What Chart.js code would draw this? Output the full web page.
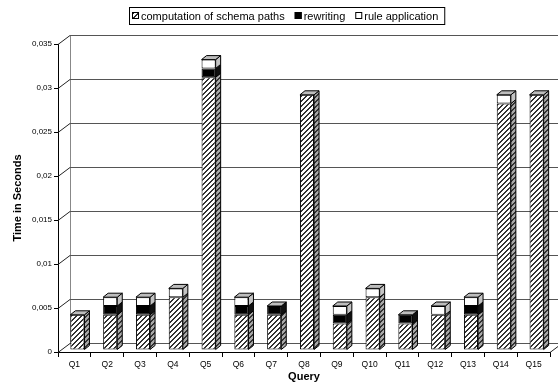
<!DOCTYPE html>
<html>
<head>
<meta charset="utf-8">
<script src="https://cdn.jsdelivr.net/npm/chart.js@4.4.1/dist/chart.umd.min.js"></script>
<style>
  html, body { margin: 0; padding: 0; background: #fff; }
</style>
</head>
<body>
<canvas id="queryChart" width="558" height="387"></canvas>
<script>
const queries = ["Q1", "Q2", "Q3", "Q4", "Q5", "Q6", "Q7", "Q8", "Q9", "Q10", "Q11", "Q12", "Q13", "Q14", "Q15"];
const schemaPaths     = [0.004, 0.004, 0.004, 0.006, 0.031, 0.004, 0.004, 0.029, 0.003, 0.006, 0.003, 0.004, 0.004, 0.028, 0.029];
const rewriting       = [0,     0.001, 0.001, 0,     0.001, 0.001, 0.001, 0,     0.001, 0,     0.001, 0,     0.001, 0,     0];
const ruleApplication = [0,     0.001, 0.001, 0.001, 0.001, 0.001, 0,     0,     0.001, 0.001, 0,     0.001, 0.001, 0.001, 0];
const yTicks = [0, 0.005, 0.01, 0.015, 0.02, 0.025, 0.03, 0.035];

const FONT = "'Liberation Sans', Arial, sans-serif";
const wall = { dx: 12, dy: -9 };     // back wall offset
const barDepth = { dx: 5, dy: -4 };  // column depth
const barShift = { dx: 3, dy: -2 };  // columns sit a bit behind the front edge

function hatch(bg, fg) {
    const c = document.createElement("canvas");
    c.width = c.height = 5;
    const g = c.getContext("2d");
    g.fillStyle = bg;
    g.fillRect(0, 0, 5, 5);
    g.fillStyle = fg;
    for (let x = 0; x < 5; x++)
        for (let y = 0; y < 5; y++)
            if ((x + y) % 5 < 2) g.fillRect(x, y, 1, 1);
    return g.createPattern(c, "repeat");
}

const hatchFront = hatch("#ffffff", "#333333");
const hatchSide = hatch("#a8a8a8", "#333333");
const sideColors = [hatchSide, "#111111", "#c4c4c4"];

const depthPlugin = {
    id: "depth3d",
    beforeDatasetsDraw(chart) {
        const { ctx, chartArea: a, scales: { y } } = chart;
        ctx.save();
        ctx.lineWidth = 1;
        // back wall left edge
        ctx.strokeStyle = "#888";
        ctx.beginPath();
        ctx.moveTo(a.left + wall.dx + 0.5, a.bottom + wall.dy);
        ctx.lineTo(a.left + wall.dx + 0.5, a.top + wall.dy);
        ctx.stroke();
        yTicks.forEach(v => {
            const py = Math.round(y.getPixelForValue(v)) + 0.5;
            ctx.strokeStyle = "#222";
            ctx.beginPath();
            ctx.moveTo(a.left, py);
            ctx.lineTo(a.left + wall.dx, py + wall.dy);
            ctx.stroke();
            ctx.strokeStyle = "#555";
            ctx.beginPath();
            ctx.moveTo(a.left + wall.dx, py + wall.dy);
            ctx.lineTo(chart.width, py + wall.dy);
            ctx.stroke();
        });
        // floor right edge
        ctx.strokeStyle = "#222";
        ctx.beginPath();
        ctx.moveTo(a.right, a.bottom + 0.5);
        ctx.lineTo(a.right + wall.dx, a.bottom + 0.5 + wall.dy);
        ctx.stroke();
        ctx.restore();

        ctx.save();
        ctx.translate(barShift.dx, barShift.dy);
    },
    afterDatasetsDraw(chart) {
        const ctx = chart.ctx;
        const metas = chart.data.datasets.map((d, i) => chart.getDatasetMeta(i));
        ctx.lineWidth = 1;
        ctx.strokeStyle = "#000";
        queries.forEach((q, i) => {
            let top = null;
            metas.forEach((m, k) => {
                if (!chart.data.datasets[k].data[i]) return;
                const el = m.data[i];
                const r = el.x + el.width / 2;
                ctx.fillStyle = sideColors[k];
                ctx.beginPath();
                ctx.moveTo(r, el.y);
                ctx.lineTo(r + barDepth.dx, el.y + barDepth.dy);
                ctx.lineTo(r + barDepth.dx, el.base + barDepth.dy);
                ctx.lineTo(r, el.base);
                ctx.closePath();
                ctx.fill();
                ctx.stroke();
                top = el;
            });
            if (top) {
                const l = top.x - top.width / 2, r = top.x + top.width / 2;
                ctx.fillStyle = "#bdbdbd";
                ctx.beginPath();
                ctx.moveTo(l, top.y);
                ctx.lineTo(l + barDepth.dx, top.y + barDepth.dy);
                ctx.lineTo(r + barDepth.dx, top.y + barDepth.dy);
                ctx.lineTo(r, top.y);
                ctx.closePath();
                ctx.fill();
                ctx.stroke();
            }
        });
        ctx.restore();
    },
    afterDraw(chart) {
        // framed legend, right edge at x = 444
        const ctx = chart.ctx;
        const sets = chart.data.datasets;
        ctx.save();
        ctx.font = "11px " + FONT;
        ctx.textBaseline = "middle";
        const box = 7, gap = 2, itemGap = 10, padL = 3, padR = 6;
        const widths = sets.map(d => box + gap + ctx.measureText(d.label).width);
        const total = widths.reduce((a, b) => a + b, 0) + itemGap * (sets.length - 1) + padL + padR;
        let x = Math.round(444 - total);
        const top = 7, h = 17;
        ctx.strokeStyle = "#000";
        ctx.lineWidth = 1;
        ctx.strokeRect(x + 0.5, top + 0.5, total, h);
        x += padL;
        sets.forEach((d, k) => {
            ctx.fillStyle = d.backgroundColor;
            ctx.fillRect(x, top + 5, box, box);
            ctx.strokeRect(x + 0.5, top + 5.5, box - 1, box - 1);
            ctx.fillStyle = "#000";
            ctx.fillText(d.label, x + box + gap, top + h / 2 + 1);
            x += widths[k] + itemGap;
        });
        ctx.restore();
    }
};

new Chart(document.getElementById("queryChart"), {
    type: "bar",
    data: {
        labels: queries,
        datasets: [
            { label: "computation of schema paths", data: schemaPaths, backgroundColor: hatchFront },
            { label: "rewriting", data: rewriting, backgroundColor: "#000000" },
            { label: "rule application", data: ruleApplication, backgroundColor: "#ffffff" }
        ]
    },
    options: {
        responsive: false,
        animation: false,
        layout: { padding: { top: 44, right: 8, left: 0, bottom: 0 } },
        datasets: {
            bar: {
                categoryPercentage: 1,
                barPercentage: 0.43,
                borderColor: "#000",
                borderWidth: c => (c.raw ? 1 : 0),
                borderSkipped: false
            }
        },
        plugins: {
            legend: { display: false },
            tooltip: { enabled: false }
        },
        scales: {
            x: {
                stacked: true,
                grid: { drawOnChartArea: false, tickLength: 5, color: "#000", offset: true },
                border: { color: "#000" },
                ticks: { color: "#000", font: { family: FONT, size: 8.5 }, padding: 3, maxRotation: 0, autoSkip: false },
                title: { display: true, text: "Query", color: "#000", font: { family: FONT, size: 11, weight: "bold" }, padding: { top: 0, bottom: 3 } },
                afterFit: s => { s.height = 35; }
            },
            y: {
                stacked: true,
                min: 0,
                max: 0.035,
                afterBuildTicks: s => { s.ticks = yTicks.map(v => ({ value: v })); },
                grid: { drawOnChartArea: false, tickLength: 4, color: "#000" },
                border: { color: "#000" },
                ticks: {
                    color: "#000",
                    font: { family: FONT, size: 8 },
                    padding: 2,
                    callback: v => String(+v.toFixed(3)).replace(".", ",")
                },
                title: { display: true, text: "Time in Seconds", color: "#000", font: { family: FONT, size: 11, weight: "bold" }, padding: { top: 11, bottom: 0 } },
                afterFit: s => { s.width = 58; }
            }
        }
    },
    plugins: [depthPlugin]
});
</script>
</body>
</html>
